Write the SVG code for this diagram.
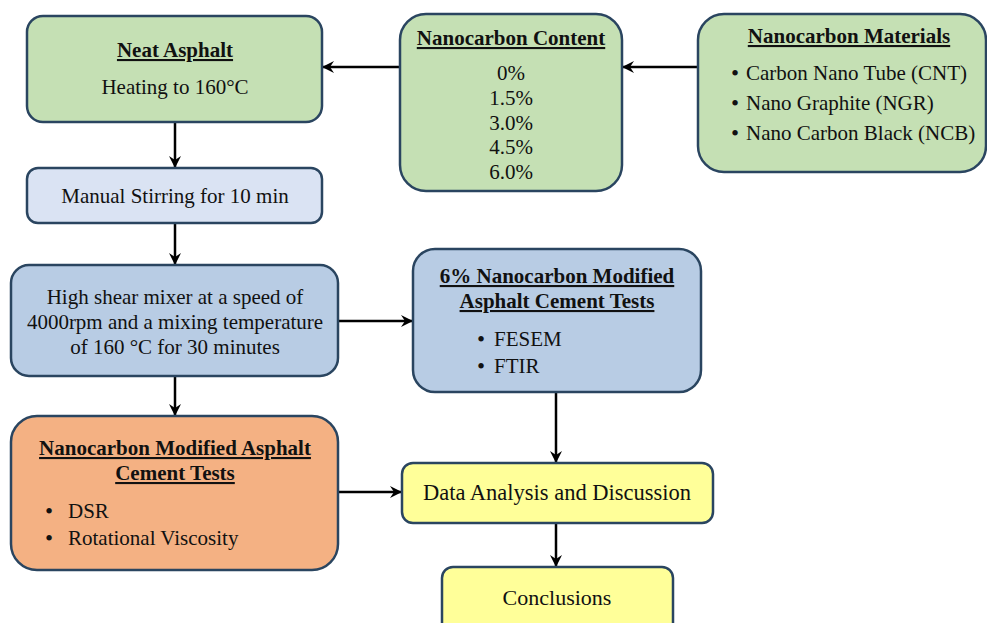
<svg xmlns="http://www.w3.org/2000/svg" width="987" height="623" viewBox="0 0 987 623">
<style>
.box{stroke:#2A4560;stroke-width:2.5}
.t{font-family:"Liberation Serif","Times New Roman",serif;font-size:21px;fill:#111}
.c{text-anchor:middle}
.h{font-weight:bold;text-decoration:underline}
.b{font-size:23px}
.con{stroke:#000;stroke-width:2.5;fill:none}
</style>
<defs>
<marker id="ah" viewBox="0 0 12 12" refX="11" refY="6" markerWidth="12" markerHeight="12" markerUnits="userSpaceOnUse" orient="auto">
<path d="M0,0 L12,6 L0,12 L4,6 Z" fill="#000"/>
</marker>
</defs>
<rect width="987" height="623" fill="#fff"/>
<g id="connectors">
<line class="con" x1="400" y1="67" x2="323" y2="67" marker-end="url(#ah)"/>
<line class="con" x1="698" y1="67" x2="623" y2="67" marker-end="url(#ah)"/>
<line class="con" x1="175" y1="122" x2="175" y2="167" marker-end="url(#ah)"/>
<line class="con" x1="175" y1="223" x2="175" y2="264" marker-end="url(#ah)"/>
<line class="con" x1="338" y1="321" x2="412" y2="321" marker-end="url(#ah)"/>
<line class="con" x1="175" y1="376" x2="175" y2="415" marker-end="url(#ah)"/>
<line class="con" x1="556" y1="392" x2="556" y2="462" marker-end="url(#ah)"/>
<line class="con" x1="338" y1="492" x2="401" y2="492" marker-end="url(#ah)"/>
<line class="con" x1="556" y1="523" x2="556" y2="566" marker-end="url(#ah)"/>
</g>
<g id="neat-asphalt">
<rect class="box" x="27" y="16" width="295" height="106" rx="16" fill="#C5E0B4"/>
<text class="t c h" x="175" y="57">Neat Asphalt</text>
<text class="t c" x="175" y="94">Heating to 160°C</text>
</g>
<g id="nanocarbon-content">
<rect class="box" x="400" y="14" width="222" height="177" rx="26" fill="#C5E0B4"/>
<text class="t c h" x="511" y="45">Nanocarbon Content</text>
<text class="t c" x="511" y="80">0%</text>
<text class="t c" x="511" y="105">1.5%</text>
<text class="t c" x="511" y="130">3.0%</text>
<text class="t c" x="511" y="154">4.5%</text>
<text class="t c" x="511" y="179">6.0%</text>
</g>
<g id="nanocarbon-materials">
<rect class="box" x="698" y="14" width="288" height="158" rx="26" fill="#C5E0B4"/>
<text class="t c h" x="849" y="43">Nanocarbon Materials</text>
<text class="t b" x="731" y="81">•</text><text class="t" x="746" y="80">Carbon Nano Tube (CNT)</text>
<text class="t b" x="731" y="111">•</text><text class="t" x="746" y="110">Nano Graphite (NGR)</text>
<text class="t b" x="731" y="141">•</text><text class="t" x="746" y="140">Nano Carbon Black (NCB)</text>
</g>
<g id="manual-stirring">
<rect class="box" x="27" y="168" width="295" height="55" rx="11" fill="#DAE3F3"/>
<text class="t c" x="175" y="203">Manual Stirring for 10 min</text>
</g>
<g id="high-shear-mixer">
<rect class="box" x="11" y="265" width="327" height="111" rx="18" fill="#B8CCE4"/>
<text class="t c" x="175" y="304">High shear mixer at a speed of</text>
<text class="t c" x="175" y="329">4000rpm and a mixing temperature</text>
<text class="t c" x="175" y="354">of 160 °C for 30 minutes</text>
</g>
<g id="six-percent-tests">
<rect class="box" x="413" y="249" width="288" height="143" rx="22" fill="#B8CCE4"/>
<text class="t c h" x="557" y="283">6% Nanocarbon Modified</text>
<text class="t c h" x="557" y="308">Asphalt Cement Tests</text>
<text class="t b" x="477" y="347">•</text><text class="t" x="494" y="346">FESEM</text>
<text class="t b" x="477" y="374">•</text><text class="t" x="494" y="373">FTIR</text>
</g>
<g id="modified-tests">
<rect class="box" x="11" y="416" width="327" height="154" rx="26" fill="#F4B183"/>
<text class="t c h" x="175" y="455">Nanocarbon Modified Asphalt</text>
<text class="t c h" x="175" y="480">Cement Tests</text>
<text class="t b" x="45" y="519">•</text><text class="t" x="68" y="518">DSR</text>
<text class="t b" x="45" y="546">•</text><text class="t" x="68" y="545">Rotational Viscosity</text>
</g>
<g id="data-analysis">
<rect class="box" x="402" y="463" width="311" height="60" rx="11" fill="#FFFF99"/>
<text class="t c" x="557" y="500" style="font-size:22.5px">Data Analysis and Discussion</text>
</g>
<g id="conclusions">
<rect class="box" x="442" y="567" width="231" height="70" rx="11" fill="#FFFF99"/>
<text class="t c" x="557" y="605" style="font-size:22px">Conclusions</text>
</g>
</svg>
